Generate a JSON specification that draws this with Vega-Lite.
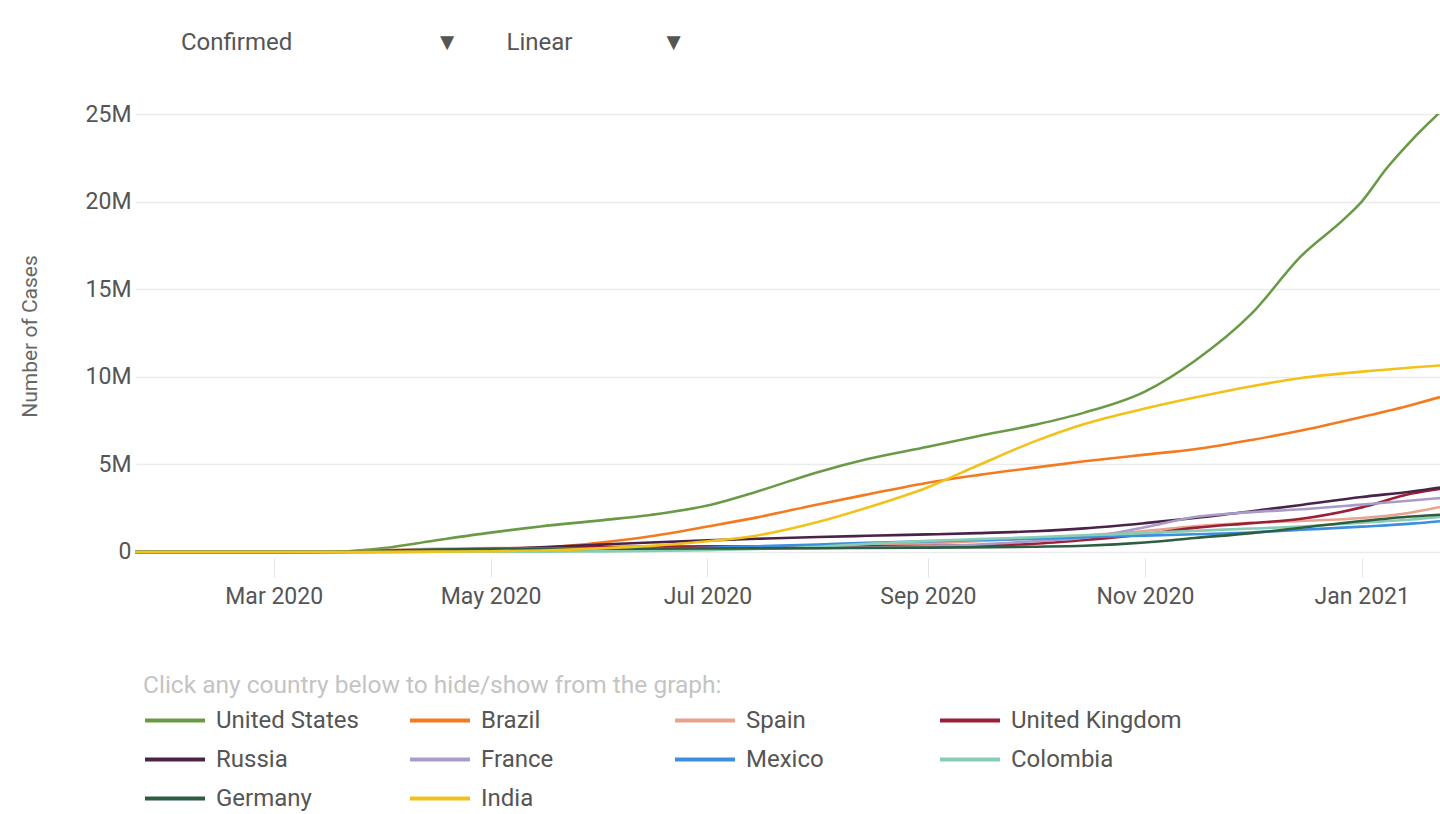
{
  "$schema": "https://vega.github.io/schema/vega-lite/v6.json",
  "width": 1305,
  "height": 444,
  "autosize": {"type": "none"},
  "padding": {"left": 135, "top": 114, "right": 0, "bottom": 256},
  "background": "white",
  "title": {
    "text": "Confirmed\u00a0\u00a0\u00a0\u00a0\u00a0\u00a0\u00a0\u00a0\u00a0\u00a0\u00a0\u00a0\u00a0\u00a0\u00a0\u00a0\u00a0\u00a0\u00a0\u00a0\u00a0\u00a0\u00a0\u00a0▼\u00a0\u00a0\u00a0\u00a0\u00a0\u00a0\u00a0\u00a0Linear\u00a0\u00a0\u00a0\u00a0\u00a0\u00a0\u00a0\u00a0\u00a0\u00a0\u00a0\u00a0\u00a0\u00a0\u00a0▼",
    "anchor": "start",
    "frame": "group",
    "dx": 46,
    "offset": 48,
    "fontSize": 24,
    "fontWeight": "normal",
    "color": "#555555",
    "font": "Roboto"
  },
  "config": {
    "font": "Roboto",
    "view": {"stroke": null},
    "axis": {"labelFont": "Roboto", "titleFont": "Roboto"},
    "legend": {"labelFont": "Roboto", "titleFont": "Roboto"}
  },
  "data": {
    "values": [
      {"c": "United States", "d": "2020-01-22", "v": 1},
      {"c": "United States", "d": "2020-02-15", "v": 15},
      {"c": "United States", "d": "2020-03-01", "v": 30},
      {"c": "United States", "d": "2020-03-15", "v": 3500},
      {"c": "United States", "d": "2020-03-22", "v": 33000},
      {"c": "United States", "d": "2020-04-01", "v": 214000},
      {"c": "United States", "d": "2020-04-15", "v": 636000},
      {"c": "United States", "d": "2020-05-01", "v": 1100000},
      {"c": "United States", "d": "2020-05-15", "v": 1450000},
      {"c": "United States", "d": "2020-06-01", "v": 1800000},
      {"c": "United States", "d": "2020-06-15", "v": 2110000},
      {"c": "United States", "d": "2020-07-01", "v": 2650000},
      {"c": "United States", "d": "2020-07-15", "v": 3450000},
      {"c": "United States", "d": "2020-08-01", "v": 4550000},
      {"c": "United States", "d": "2020-08-15", "v": 5300000},
      {"c": "United States", "d": "2020-09-01", "v": 6000000},
      {"c": "United States", "d": "2020-09-15", "v": 6600000},
      {"c": "United States", "d": "2020-10-01", "v": 7250000},
      {"c": "United States", "d": "2020-10-15", "v": 7950000},
      {"c": "United States", "d": "2020-11-01", "v": 9150000},
      {"c": "United States", "d": "2020-11-15", "v": 10900000},
      {"c": "United States", "d": "2020-12-01", "v": 13600000},
      {"c": "United States", "d": "2020-12-15", "v": 16900000},
      {"c": "United States", "d": "2020-12-27", "v": 19000000},
      {"c": "United States", "d": "2021-01-01", "v": 20000000},
      {"c": "United States", "d": "2021-01-08", "v": 21900000},
      {"c": "United States", "d": "2021-01-15", "v": 23500000},
      {"c": "United States", "d": "2021-01-23", "v": 25100000},

      {"c": "Brazil", "d": "2020-01-22", "v": 0},
      {"c": "Brazil", "d": "2020-03-01", "v": 2},
      {"c": "Brazil", "d": "2020-03-15", "v": 200},
      {"c": "Brazil", "d": "2020-04-01", "v": 6800},
      {"c": "Brazil", "d": "2020-04-15", "v": 28000},
      {"c": "Brazil", "d": "2020-05-01", "v": 92000},
      {"c": "Brazil", "d": "2020-05-15", "v": 220000},
      {"c": "Brazil", "d": "2020-06-01", "v": 526000},
      {"c": "Brazil", "d": "2020-06-15", "v": 888000},
      {"c": "Brazil", "d": "2020-07-01", "v": 1450000},
      {"c": "Brazil", "d": "2020-07-15", "v": 1970000},
      {"c": "Brazil", "d": "2020-08-01", "v": 2710000},
      {"c": "Brazil", "d": "2020-08-15", "v": 3280000},
      {"c": "Brazil", "d": "2020-09-01", "v": 3950000},
      {"c": "Brazil", "d": "2020-09-15", "v": 4380000},
      {"c": "Brazil", "d": "2020-10-01", "v": 4810000},
      {"c": "Brazil", "d": "2020-10-15", "v": 5170000},
      {"c": "Brazil", "d": "2020-11-01", "v": 5550000},
      {"c": "Brazil", "d": "2020-11-15", "v": 5860000},
      {"c": "Brazil", "d": "2020-12-01", "v": 6390000},
      {"c": "Brazil", "d": "2020-12-15", "v": 6930000},
      {"c": "Brazil", "d": "2021-01-01", "v": 7700000},
      {"c": "Brazil", "d": "2021-01-15", "v": 8390000},
      {"c": "Brazil", "d": "2021-01-23", "v": 8840000},

      {"c": "Spain", "d": "2020-01-22", "v": 0},
      {"c": "Spain", "d": "2020-03-01", "v": 84},
      {"c": "Spain", "d": "2020-03-15", "v": 7800},
      {"c": "Spain", "d": "2020-04-01", "v": 104000},
      {"c": "Spain", "d": "2020-04-15", "v": 177000},
      {"c": "Spain", "d": "2020-05-01", "v": 215000},
      {"c": "Spain", "d": "2020-06-01", "v": 240000},
      {"c": "Spain", "d": "2020-07-01", "v": 250000},
      {"c": "Spain", "d": "2020-08-01", "v": 288000},
      {"c": "Spain", "d": "2020-08-15", "v": 350000},
      {"c": "Spain", "d": "2020-09-01", "v": 470000},
      {"c": "Spain", "d": "2020-09-15", "v": 615000},
      {"c": "Spain", "d": "2020-10-01", "v": 778000},
      {"c": "Spain", "d": "2020-10-15", "v": 937000},
      {"c": "Spain", "d": "2020-11-01", "v": 1190000},
      {"c": "Spain", "d": "2020-11-15", "v": 1460000},
      {"c": "Spain", "d": "2020-12-01", "v": 1660000},
      {"c": "Spain", "d": "2020-12-15", "v": 1770000},
      {"c": "Spain", "d": "2021-01-01", "v": 1930000},
      {"c": "Spain", "d": "2021-01-15", "v": 2250000},
      {"c": "Spain", "d": "2021-01-23", "v": 2560000},

      {"c": "United Kingdom", "d": "2020-01-22", "v": 0},
      {"c": "United Kingdom", "d": "2020-03-01", "v": 36},
      {"c": "United Kingdom", "d": "2020-03-15", "v": 1140},
      {"c": "United Kingdom", "d": "2020-04-01", "v": 29000},
      {"c": "United Kingdom", "d": "2020-04-15", "v": 99000},
      {"c": "United Kingdom", "d": "2020-05-01", "v": 178000},
      {"c": "United Kingdom", "d": "2020-05-15", "v": 237000},
      {"c": "United Kingdom", "d": "2020-06-01", "v": 277000},
      {"c": "United Kingdom", "d": "2020-07-01", "v": 314000},
      {"c": "United Kingdom", "d": "2020-08-01", "v": 305000},
      {"c": "United Kingdom", "d": "2020-09-01", "v": 338000},
      {"c": "United Kingdom", "d": "2020-09-15", "v": 375000},
      {"c": "United Kingdom", "d": "2020-10-01", "v": 463000},
      {"c": "United Kingdom", "d": "2020-10-15", "v": 676000},
      {"c": "United Kingdom", "d": "2020-11-01", "v": 1010000},
      {"c": "United Kingdom", "d": "2020-11-15", "v": 1370000},
      {"c": "United Kingdom", "d": "2020-12-01", "v": 1640000},
      {"c": "United Kingdom", "d": "2020-12-15", "v": 1890000},
      {"c": "United Kingdom", "d": "2021-01-01", "v": 2540000},
      {"c": "United Kingdom", "d": "2021-01-15", "v": 3330000},
      {"c": "United Kingdom", "d": "2021-01-23", "v": 3600000},

      {"c": "Russia", "d": "2020-01-22", "v": 0},
      {"c": "Russia", "d": "2020-03-01", "v": 2},
      {"c": "Russia", "d": "2020-03-15", "v": 63},
      {"c": "Russia", "d": "2020-04-01", "v": 2800},
      {"c": "Russia", "d": "2020-04-15", "v": 24500},
      {"c": "Russia", "d": "2020-05-01", "v": 114000},
      {"c": "Russia", "d": "2020-05-15", "v": 262000},
      {"c": "Russia", "d": "2020-06-01", "v": 415000},
      {"c": "Russia", "d": "2020-06-15", "v": 537000},
      {"c": "Russia", "d": "2020-07-01", "v": 654000},
      {"c": "Russia", "d": "2020-07-15", "v": 746000},
      {"c": "Russia", "d": "2020-08-01", "v": 850000},
      {"c": "Russia", "d": "2020-08-15", "v": 918000},
      {"c": "Russia", "d": "2020-09-01", "v": 997000},
      {"c": "Russia", "d": "2020-09-15", "v": 1070000},
      {"c": "Russia", "d": "2020-10-01", "v": 1180000},
      {"c": "Russia", "d": "2020-10-15", "v": 1340000},
      {"c": "Russia", "d": "2020-11-01", "v": 1640000},
      {"c": "Russia", "d": "2020-11-15", "v": 1930000},
      {"c": "Russia", "d": "2020-12-01", "v": 2320000},
      {"c": "Russia", "d": "2020-12-15", "v": 2680000},
      {"c": "Russia", "d": "2021-01-01", "v": 3130000},
      {"c": "Russia", "d": "2021-01-15", "v": 3450000},
      {"c": "Russia", "d": "2021-01-23", "v": 3680000},

      {"c": "France", "d": "2020-01-22", "v": 0},
      {"c": "France", "d": "2020-03-01", "v": 130},
      {"c": "France", "d": "2020-03-15", "v": 5400},
      {"c": "France", "d": "2020-04-01", "v": 57000},
      {"c": "France", "d": "2020-04-15", "v": 134000},
      {"c": "France", "d": "2020-05-01", "v": 168000},
      {"c": "France", "d": "2020-06-01", "v": 189000},
      {"c": "France", "d": "2020-07-01", "v": 203000},
      {"c": "France", "d": "2020-08-01", "v": 225000},
      {"c": "France", "d": "2020-08-15", "v": 253000},
      {"c": "France", "d": "2020-09-01", "v": 318000},
      {"c": "France", "d": "2020-09-15", "v": 420000},
      {"c": "France", "d": "2020-10-01", "v": 607000},
      {"c": "France", "d": "2020-10-15", "v": 810000},
      {"c": "France", "d": "2020-11-01", "v": 1410000},
      {"c": "France", "d": "2020-11-15", "v": 1990000},
      {"c": "France", "d": "2020-12-01", "v": 2270000},
      {"c": "France", "d": "2020-12-15", "v": 2430000},
      {"c": "France", "d": "2021-01-01", "v": 2700000},
      {"c": "France", "d": "2021-01-15", "v": 2930000},
      {"c": "France", "d": "2021-01-23", "v": 3070000},

      {"c": "Mexico", "d": "2020-01-22", "v": 0},
      {"c": "Mexico", "d": "2020-03-01", "v": 5},
      {"c": "Mexico", "d": "2020-04-01", "v": 1400},
      {"c": "Mexico", "d": "2020-04-15", "v": 5800},
      {"c": "Mexico", "d": "2020-05-01", "v": 20000},
      {"c": "Mexico", "d": "2020-05-15", "v": 45000},
      {"c": "Mexico", "d": "2020-06-01", "v": 93000},
      {"c": "Mexico", "d": "2020-06-15", "v": 150000},
      {"c": "Mexico", "d": "2020-07-01", "v": 232000},
      {"c": "Mexico", "d": "2020-07-15", "v": 317000},
      {"c": "Mexico", "d": "2020-08-01", "v": 425000},
      {"c": "Mexico", "d": "2020-08-15", "v": 517000},
      {"c": "Mexico", "d": "2020-09-01", "v": 600000},
      {"c": "Mexico", "d": "2020-09-15", "v": 676000},
      {"c": "Mexico", "d": "2020-10-01", "v": 748000},
      {"c": "Mexico", "d": "2020-10-15", "v": 835000},
      {"c": "Mexico", "d": "2020-11-01", "v": 929000},
      {"c": "Mexico", "d": "2020-11-15", "v": 1010000},
      {"c": "Mexico", "d": "2020-12-01", "v": 1110000},
      {"c": "Mexico", "d": "2020-12-15", "v": 1260000},
      {"c": "Mexico", "d": "2021-01-01", "v": 1440000},
      {"c": "Mexico", "d": "2021-01-15", "v": 1610000},
      {"c": "Mexico", "d": "2021-01-23", "v": 1750000},

      {"c": "Colombia", "d": "2020-01-22", "v": 0},
      {"c": "Colombia", "d": "2020-03-15", "v": 45},
      {"c": "Colombia", "d": "2020-04-01", "v": 1000},
      {"c": "Colombia", "d": "2020-05-01", "v": 7000},
      {"c": "Colombia", "d": "2020-06-01", "v": 30000},
      {"c": "Colombia", "d": "2020-06-15", "v": 54000},
      {"c": "Colombia", "d": "2020-07-01", "v": 102000},
      {"c": "Colombia", "d": "2020-07-15", "v": 165000},
      {"c": "Colombia", "d": "2020-08-01", "v": 296000},
      {"c": "Colombia", "d": "2020-08-15", "v": 456000},
      {"c": "Colombia", "d": "2020-09-01", "v": 625000},
      {"c": "Colombia", "d": "2020-09-15", "v": 728000},
      {"c": "Colombia", "d": "2020-10-01", "v": 835000},
      {"c": "Colombia", "d": "2020-10-15", "v": 946000},
      {"c": "Colombia", "d": "2020-11-01", "v": 1070000},
      {"c": "Colombia", "d": "2020-11-15", "v": 1200000},
      {"c": "Colombia", "d": "2020-12-01", "v": 1330000},
      {"c": "Colombia", "d": "2020-12-15", "v": 1450000},
      {"c": "Colombia", "d": "2021-01-01", "v": 1670000},
      {"c": "Colombia", "d": "2021-01-15", "v": 1850000},
      {"c": "Colombia", "d": "2021-01-23", "v": 2000000},

      {"c": "Germany", "d": "2020-01-22", "v": 0},
      {"c": "Germany", "d": "2020-03-01", "v": 130},
      {"c": "Germany", "d": "2020-03-15", "v": 5800},
      {"c": "Germany", "d": "2020-04-01", "v": 77000},
      {"c": "Germany", "d": "2020-04-15", "v": 134000},
      {"c": "Germany", "d": "2020-05-01", "v": 164000},
      {"c": "Germany", "d": "2020-06-01", "v": 183000},
      {"c": "Germany", "d": "2020-07-01", "v": 196000},
      {"c": "Germany", "d": "2020-08-01", "v": 210000},
      {"c": "Germany", "d": "2020-09-01", "v": 245000},
      {"c": "Germany", "d": "2020-10-01", "v": 294000},
      {"c": "Germany", "d": "2020-10-15", "v": 348000},
      {"c": "Germany", "d": "2020-11-01", "v": 532000},
      {"c": "Germany", "d": "2020-11-15", "v": 790000},
      {"c": "Germany", "d": "2020-12-01", "v": 1070000},
      {"c": "Germany", "d": "2020-12-15", "v": 1380000},
      {"c": "Germany", "d": "2021-01-01", "v": 1760000},
      {"c": "Germany", "d": "2021-01-15", "v": 2020000},
      {"c": "Germany", "d": "2021-01-23", "v": 2120000},

      {"c": "India", "d": "2020-01-22", "v": 0},
      {"c": "India", "d": "2020-03-01", "v": 3},
      {"c": "India", "d": "2020-03-15", "v": 110},
      {"c": "India", "d": "2020-04-01", "v": 1600},
      {"c": "India", "d": "2020-04-15", "v": 12000},
      {"c": "India", "d": "2020-05-01", "v": 37000},
      {"c": "India", "d": "2020-05-15", "v": 82000},
      {"c": "India", "d": "2020-06-01", "v": 198000},
      {"c": "India", "d": "2020-06-15", "v": 343000},
      {"c": "India", "d": "2020-07-01", "v": 605000},
      {"c": "India", "d": "2020-07-15", "v": 937000},
      {"c": "India", "d": "2020-08-01", "v": 1700000},
      {"c": "India", "d": "2020-08-15", "v": 2530000},
      {"c": "India", "d": "2020-09-01", "v": 3690000},
      {"c": "India", "d": "2020-09-15", "v": 4930000},
      {"c": "India", "d": "2020-10-01", "v": 6310000},
      {"c": "India", "d": "2020-10-15", "v": 7300000},
      {"c": "India", "d": "2020-11-01", "v": 8180000},
      {"c": "India", "d": "2020-11-15", "v": 8810000},
      {"c": "India", "d": "2020-12-01", "v": 9460000},
      {"c": "India", "d": "2020-12-15", "v": 9930000},
      {"c": "India", "d": "2021-01-01", "v": 10290000},
      {"c": "India", "d": "2021-01-15", "v": 10530000},
      {"c": "India", "d": "2021-01-23", "v": 10640000}
    ]
  },
  "mark": {"type": "line", "strokeWidth": 2.6, "interpolate": "monotone", "clip": true},
  "encoding": {
    "x": {
      "field": "d",
      "type": "temporal",
      "scale": {
        "type": "utc",
        "domain": [
          {"year": 2020, "month": 1, "date": 22, "utc": true},
          {"year": 2021, "month": 1, "date": 23, "utc": true}
        ],
        "nice": false
      },
      "axis": {
        "title": null,
        "values": [
          {"year": 2020, "month": 3, "date": 1, "utc": true},
          {"year": 2020, "month": 5, "date": 1, "utc": true},
          {"year": 2020, "month": 7, "date": 1, "utc": true},
          {"year": 2020, "month": 9, "date": 1, "utc": true},
          {"year": 2020, "month": 11, "date": 1, "utc": true},
          {"year": 2021, "month": 1, "date": 1, "utc": true}
        ],
        "labelExpr": "utcFormat(datum.value, '%b %Y')",
        "grid": false,
        "domain": false,
        "ticks": true,
        "tickColor": "#e4e4e4",
        "tickSize": 19,
        "tickWidth": 1,
        "labelPadding": 8,
        "labelFontSize": 23,
        "labelColor": "#555555",
        "labelFlush": false
      }
    },
    "y": {
      "field": "v",
      "type": "quantitative",
      "scale": {"domain": [-350000, 25000000], "nice": false, "zero": false},
      "axis": {
        "title": "Number of Cases",
        "titleFontSize": 21,
        "titleFontWeight": "normal",
        "titleColor": "#666666",
        "titlePadding": 45,
        "values": [0, 5000000, 10000000, 15000000, 20000000, 25000000],
        "labelExpr": "datum.value == 0 ? '0' : (datum.value / 1000000) + 'M'",
        "labelFontSize": 23,
        "labelColor": "#555555",
        "labelPadding": 4,
        "ticks": false,
        "domain": false,
        "grid": true,
        "gridColor": "#ececec",
        "gridWidth": 1.5
      }
    },
    "color": {
      "field": "c",
      "type": "nominal",
      "scale": {
        "domain": ["United States", "Brazil", "Spain", "United Kingdom", "Russia", "France", "Mexico", "Colombia", "Germany", "India"],
        "range": ["#6a9a45", "#f47a20", "#e8a28e", "#9c1f3a", "#4a2448", "#a99cc9", "#3b8ee0", "#86cdb3", "#2e5e40", "#f2c11a"]
      },
      "legend": {
        "title": "Click any country below to hide/show from the graph:",
        "orient": "bottom",
        "direction": "horizontal",
        "columns": 4,
        "gridAlign": "all",
        "offset": 58,
        "padding": 8,
        "titleFontSize": 24.5,
        "titleFontWeight": "normal",
        "titleColor": "#c4c4c4",
        "titleLimit": 900,
        "titlePadding": -5,
        "labelFontSize": 24,
        "labelColor": "#555555",
        "labelLimit": 400,
        "labelOffset": 14,
        "symbolType": "M-1.2,0H1.2",
        "symbolSize": 2500,
        "symbolOffset": 5,
        "symbolStrokeWidth": 4,
        "columnPadding": 15,
        "rowPadding": 0
      }
    }
  }
}
